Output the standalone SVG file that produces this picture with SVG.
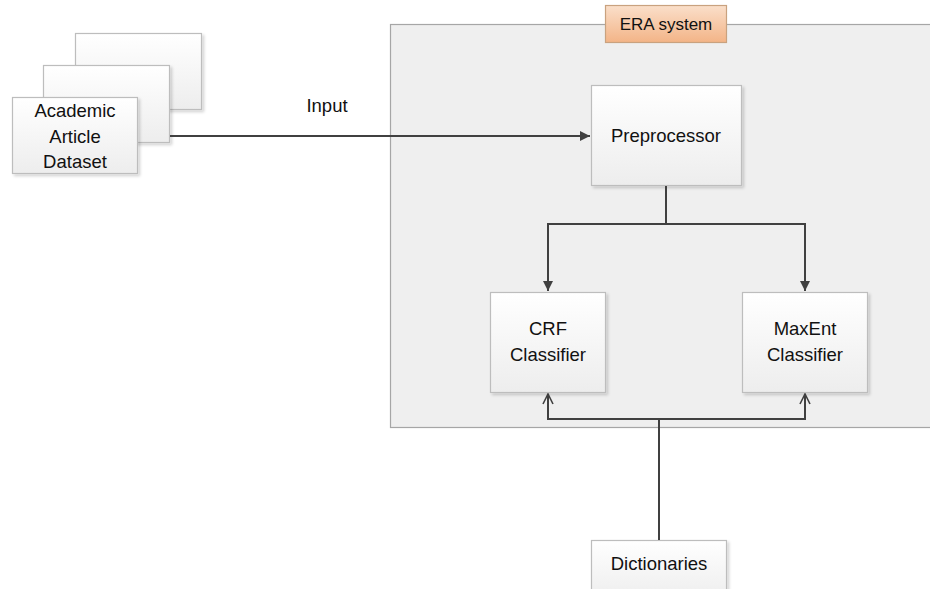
<svg xmlns="http://www.w3.org/2000/svg" width="930" height="589" viewBox="0 0 930 589">
  <defs>
    <linearGradient id="boxFill" x1="0" y1="0" x2="0" y2="1">
      <stop offset="0" stop-color="#ffffff"/>
      <stop offset="1" stop-color="#ededed"/>
    </linearGradient>
    <linearGradient id="tagFill" x1="0" y1="0" x2="0" y2="1">
      <stop offset="0" stop-color="#fadfca"/>
      <stop offset="1" stop-color="#f3b487"/>
    </linearGradient>
    <filter id="shadow" x="-10%" y="-10%" width="130%" height="130%">
      <feDropShadow dx="2" dy="2" stdDeviation="1.5" flood-color="#000" flood-opacity="0.18"/>
    </filter>
    <marker id="solidHead" viewBox="0 0 10 10" refX="10" refY="5" markerWidth="5" markerHeight="5" orient="auto" markerUnits="strokeWidth">
      <path d="M0,0 L10,5 L0,10 Z" fill="#404040"/>
    </marker>
    <marker id="openHead" viewBox="0 0 12 12" refX="11" refY="6" markerWidth="6" markerHeight="6" orient="auto" markerUnits="strokeWidth">
      <path d="M1,1 L11,6 L1,11" fill="none" stroke="#404040" stroke-width="1.6"/>
    </marker>
  </defs>
  <style>
    .box { fill: url(#boxFill); stroke: #bdbdbd; stroke-width: 1.2; filter: url(#shadow); }
    .txt { font-family: "Liberation Sans", "Open Sans", Arial, sans-serif; font-size: 18.5px; fill: #111; text-anchor: middle; }
    .conn { fill: none; stroke: #404040; stroke-width: 2; }
  </style>

  <rect width="930" height="589" fill="#ffffff"/>

  <!-- system boundary -->
  <g id="era-system">
    <rect x="390.5" y="24.5" width="560" height="403" fill="#efefef" stroke="#a6a6a6" stroke-width="1.2"/>
    <rect x="605.5" y="5.5" width="121" height="37" fill="url(#tagFill)" stroke="#c9a27f" stroke-width="1.2"/>
    <text class="txt" x="666" y="30" style="font-size:17px">ERA system</text>
  </g>

  <!-- document stack -->
  <g id="dataset">
    <rect class="box" x="75.5" y="33.5" width="126" height="76"/>
    <rect class="box" x="43.5" y="65.5" width="126" height="77"/>
    <rect class="box" x="12.5" y="97.5" width="125" height="76"/>
    <text class="txt" x="75" y="117">Academic</text>
    <text class="txt" x="75" y="143">Article</text>
    <text class="txt" x="75" y="168">Dataset</text>
  </g>

  <g id="preprocessor">
    <rect class="box" x="591.5" y="85.5" width="150" height="100"/>
    <text class="txt" x="666" y="142">Preprocessor</text>
  </g>

  <g id="crf">
    <rect class="box" x="490.5" y="292.5" width="115" height="100"/>
    <text class="txt" x="548" y="335">CRF</text>
    <text class="txt" x="548" y="361">Classifier</text>
  </g>

  <g id="maxent">
    <rect class="box" x="742.5" y="292.5" width="125" height="100"/>
    <text class="txt" x="805" y="335">MaxEnt</text>
    <text class="txt" x="805" y="361">Classifier</text>
  </g>

  <g id="dictionaries">
    <rect class="box" x="591.5" y="540.5" width="135" height="60"/>
    <text class="txt" x="659" y="570">Dictionaries</text>
  </g>

  <g id="connectors">
    <path class="conn" d="M170,136 H590" marker-end="url(#solidHead)"/>
    <text class="txt" x="327" y="112">Input</text>
    <path class="conn" d="M666,186 V224 H548 V291" marker-end="url(#solidHead)"/>
    <path class="conn" d="M666,224 H805 V291" marker-end="url(#solidHead)"/>
    <path class="conn" d="M659,540 V419 H548 V394" marker-end="url(#openHead)"/>
    <path class="conn" d="M659,419 H805 V394" marker-end="url(#openHead)"/>
  </g>
</svg>
